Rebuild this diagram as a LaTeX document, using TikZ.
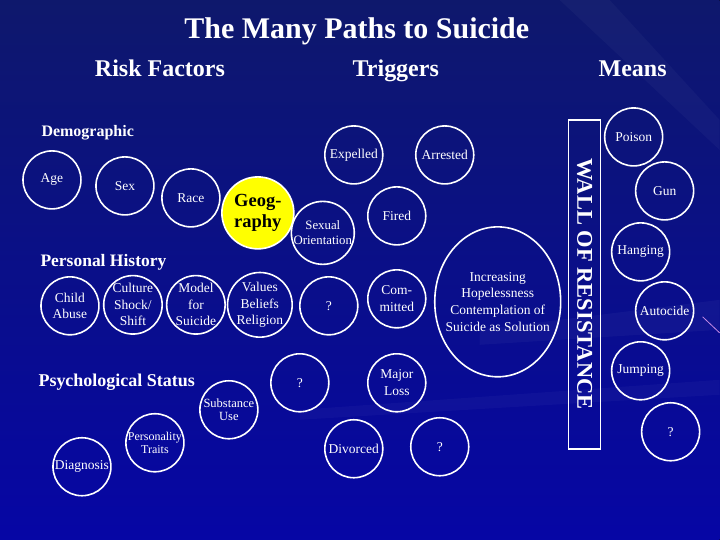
\documentclass[tikz,border=0pt]{standalone}
\usepackage{fontspec}
\setmainfont{Liberation Serif}
\usepackage{xcolor}
\usepackage{tikz}
\usetikzlibrary{shapes.geometric}
\definecolor{slidetop}{RGB}{14,24,108}
\definecolor{slidebot}{RGB}{6,6,165}
\definecolor{geoyellow}{HTML}{FFFF00}
\definecolor{streak}{RGB}{200,140,230}

\begin{document}
\begin{tikzpicture}[x=1pt,y=-1pt,
    bub/.style={circle,draw=white,line width=1.6pt,minimum size=58pt,inner sep=0pt,
      text=white,align=center,font=\fontsize{13.5}{16.5}\selectfont},
    head/.style={text=white,anchor=base,font=\bfseries\fontsize{24}{28}\selectfont},
    group/.style={text=white,anchor=west,font=\bfseries\fontsize{17.5}{20}\selectfont}]
    % slide background
    \fill[top color=slidetop,bottom color=slidebot] (0,0) rectangle (720,540);
    \fill[white,opacity=0.035] (480,330) -- (720,300) -- (720,330) -- (480,345) -- cycle;
    \fill[white,opacity=0.03] (300,410) -- (720,380) -- (720,395) -- (300,420) -- cycle;
    \fill[white,opacity=0.03] (560,0) -- (610,0) -- (720,120) -- (720,150) -- cycle;
    \draw[streak,line width=0.8pt] (703,317) -- (720,333);
    \useasboundingbox (0,0) rectangle (720,540);

    % headings
    \node[text=white,font=\bfseries\fontsize{30}{34}\selectfont] (title) at (357,31) {The Many Paths to Suicide};
    \node[head] (risk) at (160,77) {Risk Factors};
    \node[head] (trig) at (396,77) {Triggers};
    \node[head] (means) at (633,77) {Means};
    \node[group,font=\bfseries\fontsize{16}{19}\selectfont] (demo) at (38,133) {Demographic};
    \node[group] (pers) at (37,262) {Personal History};
    \node[group,font=\bfseries\fontsize{18}{21}\selectfont] (psych) at (35,382) {Psychological Status};

    % risk factors
    \node[bub] (age) at (52,180) {Age};
    \node[bub] (sex) at (125,186) {Sex};
    \node[bub] (race) at (191,198) {Race};
    \node[bub,minimum size=72pt,fill=geoyellow,text=black,font=\bfseries\fontsize{18.5}{21}\selectfont] (geo) at (258,213) {Geog-\\raphy};
    \node[bub] (abuse) at (70,306) {Child\\Abuse};
    \node[bub] (culture) at (133,305) {Culture\\Shock/\\Shift};
    \node[bub] (model) at (196,305) {Model\\for\\Suicide};
    \node[bub] (values) at (260,305) {Values\\Beliefs\\Religion};
    \node[bub,font=\fontsize{12.5}{13.5}\selectfont] (subst) at (229,410) {Substance\\Use};
    \node[bub,font=\fontsize{12}{13.5}\selectfont] (traits) at (155,443) {Personality\\Traits};
    \node[bub] (diag) at (82,467) {Diagnosis};

    % triggers
    \node[bub] (expel) at (354,155) {Expelled};
    \node[bub] (arrest) at (445,155) {Arrested};
    \node[bub] (fired) at (397,216) {Fired};
    \node[bub,font=\fontsize{12.8}{15}\selectfont] (sexor) at (323,233) {Sexual\\Orientation};
    \node[bub] (qa) at (329,306) {?};
    \node[bub] (commit) at (397,299) {Com-\\mitted};
    \node[bub] (qb) at (300,383) {?};
    \node[bub] (loss) at (397,383) {Major\\Loss};
    \node[bub] (divorce) at (354,449) {Divorced};
    \node[bub] (qc) at (440,447) {?};
    \node[ellipse,draw=white,line width=1.6pt,minimum width=126pt,minimum height=150pt,inner sep=-8pt,
      text=white,align=center,font=\fontsize{13.5}{16.7}\selectfont] (hope) at (498,302)
      {Increasing\\Hopelessness\\Contemplation of\\Suicide as Solution};

    % wall
    \node[draw=white,line width=1.6pt,rotate=-90,minimum width=329pt,minimum height=32pt,inner sep=0pt,
      text=white,font=\bfseries\fontsize{22.5}{25}\selectfont] (wall) at (585,284.5) {WALL OF RESISTANCE};

    % means
    \node[bub] (poison) at (634,137) {Poison};
    \node[bub] (gun) at (665,191) {Gun};
    \node[bub] (hang) at (641,252) {Hanging};
    \node[bub] (auto) at (665,311) {Autocide};
    \node[bub] (jump) at (641,371) {Jumping};
    \node[bub] (qd) at (671,432) {?};
  \end{tikzpicture}
\end{document}
